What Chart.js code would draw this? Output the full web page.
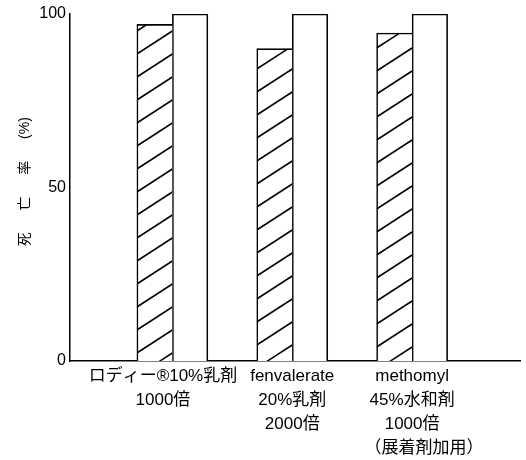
<!DOCTYPE html>
<html><head><meta charset="utf-8">
<script src="https://cdn.jsdelivr.net/npm/chart.js@4/dist/chart.umd.min.js"></script>
<style>html,body{margin:0;padding:0;background:#fff;}canvas{display:block;}</style>
</head><body>
<canvas id="c" width="526" height="460"></canvas>
<script>
// ---- data ----
const categories = [
  ['ロディー®10%乳剤    ', '1000倍    '],
  ['fenvalerate', '20%乳剤', '2000倍'],
  ['methomyl', '45%水和剤', '1000倍', '     （展着剤加用）']
];
const categoryPositions = [1, 2, 3];
const hatchedValues = [97, 90, 94.5];
const openValues = [100, 100, 100];
const yTicks = [0, 50, 100];
const yTitle = '   死　  亡　  率　  (%)';

// ---- style ----
const FONT = "'Liberation Sans', 'Noto Sans CJK JP', sans-serif";
const HATCH_RISE = 23, HATCH_GAP = 23, HATCH_PHASE = [8, 16, 14];

const hatchPlugin = {
  id: 'hatch',
  afterDatasetDraw(chart, args) {
    if (args.index !== 0) return;
    const ctx = chart.ctx;
    chart.getDatasetMeta(0).data.forEach((bar, i) => {
      const {x, y, base, width} = bar.getProps(['x', 'y', 'base', 'width'], true);
      const left = x - width / 2, right = x + width / 2;
      const slope = HATCH_RISE / width;
      ctx.save();
      ctx.beginPath(); ctx.rect(left, y, width, base - y); ctx.clip();
      ctx.strokeStyle = '#000'; ctx.lineWidth = 1.5;
      for (let c = base - HATCH_PHASE[i] + 2 * HATCH_GAP; c > y - HATCH_GAP; c -= HATCH_GAP) {
        ctx.beginPath(); ctx.moveTo(left, c); ctx.lineTo(right, c - slope * width); ctx.stroke();
      }
      ctx.restore();
    });
  }
};

new Chart(document.getElementById('c'), {
  type: 'bar',
  data: {
    datasets: [
      {
        data: categoryPositions.map((x, i) => ({x, y: hatchedValues[i]})),
        backgroundColor: '#fff', borderColor: '#000',
        borderWidth: {left: 1.6, top: 1.6, right: 0, bottom: 0},
        borderSkipped: false, barThickness: 35.5
      },
      {
        data: categoryPositions.map((x, i) => ({x, y: openValues[i]})),
        backgroundColor: '#fff', borderColor: '#000',
        borderWidth: {left: 1.6, top: 1.6, right: 1.6, bottom: 0},
        borderSkipped: false, barThickness: 35.5
      }
    ]
  },
  plugins: [hatchPlugin],
  options: {
    responsive: false, animation: false, events: [],
    layout: {padding: {top: 14, right: 6, left: 0, bottom: 0}},
    plugins: {legend: {display: false}, tooltip: {enabled: false}},
    scales: {
      x: {
        type: 'linear', min: 0.146, max: 3.9, offset: false,
        afterBuildTicks: s => { s.ticks = categoryPositions.map(v => ({value: v})); },
        afterFit: s => { s.height = 99; },
        grid: {display: false, drawTicks: false, offset: false},
        border: {display: true, color: '#000', width: 1.5},
        ticks: {
          padding: 3, maxRotation: 0, autoSkip: false, color: '#000',
          font: {family: FONT, size: 17, lineHeight: 24 / 17},
          callback: v => { const i = categoryPositions.indexOf(v); return i >= 0 ? categories[i] : ''; }
        }
      },
      y: {
        min: 0, max: 100,
        afterBuildTicks: s => { s.ticks = yTicks.map(v => ({value: v})); },
        afterFit: s => { s.width = 70; },
        grid: {display: false, drawTicks: false},
        border: {display: true, color: '#000', width: 1.5},
        ticks: {padding: 4, color: '#000', font: {family: FONT, size: 16}},
        title: {
          display: true, text: yTitle, color: '#000',
          font: {family: FONT, size: 14, lineHeight: 1.2},
          padding: {top: 16.6, bottom: 0}
        }
      }
    }
  }
});
</script>
</body></html>
